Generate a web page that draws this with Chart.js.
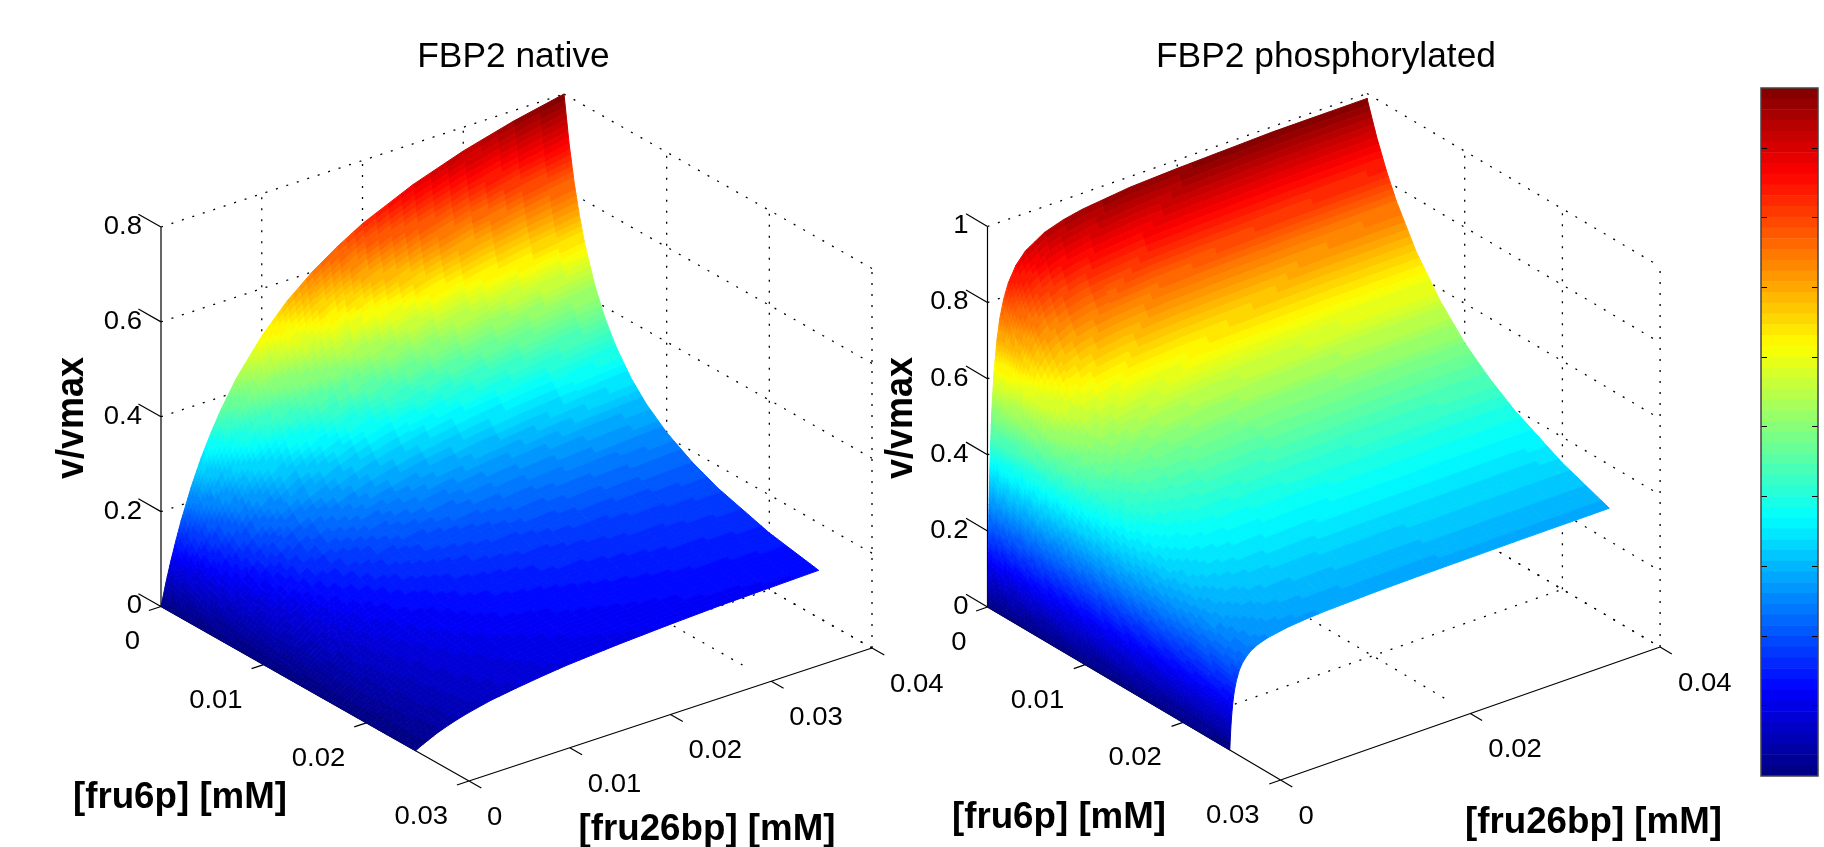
<!DOCTYPE html>
<html>
<head>
<meta charset="utf-8">
<title>FBP2 rate surfaces</title>
<script src="https://cdn.jsdelivr.net/npm/chart.js@4"></script>
<style>
  html,body{margin:0;padding:0;background:#fff;overflow:hidden}
  canvas{position:absolute;top:0}
</style>
</head>
<body>
<canvas id="nativeChart" width="960" height="847" style="left:0"></canvas>
<canvas id="phosChart" width="880" height="847" style="left:870px"></canvas>
<canvas id="cbarChart" width="59" height="690" style="left:1760px;top:87px"></canvas>
<script>
// values
const fb_native = [0,.0005,.001,.0015,.002,.003,.004,.005,.006,.0075,.01,.0125,.015,.0175,.02,.025,.03,.035,.04];
const f6_native = [0,.0005,.001,.0015,.002,.003,.004,.005,.0065,.008,.01,.0125,.015,.02,.0248];
const v_native = [
  [0,.048,.091,.130,.167,.231,.286,.333,.375,.429,.500,.556,.600,.636,.667,.714,.750,.778,.800],
  [0,.042,.080,.114,.146,.202,.250,.292,.329,.376,.438,.487,.526,.558,.584,.626,.657,.682,.701],
  [0,.037,.071,.102,.130,.180,.223,.260,.292,.334,.390,.433,.468,.496,.520,.557,.585,.606,.624],
  [0,.033,.064,.092,.117,.162,.201,.234,.263,.301,.351,.390,.421,.447,.468,.502,.527,.546,.562],
  [0,.030,.058,.083,.107,.147,.183,.213,.240,.274,.320,.355,.383,.407,.426,.456,.479,.497,.511],
  [0,.026,.049,.071,.090,.125,.155,.180,.203,.232,.271,.301,.325,.344,.361,.387,.406,.421,.433],
  [0,.022,.043,.061,.078,.108,.134,.156,.176,.201,.235,.261,.282,.299,.313,.335,.352,.365,.376],
  [0,.020,.038,.054,.069,.096,.118,.138,.155,.178,.207,.230,.249,.264,.276,.296,.311,.322,.332],
  [0,.017,.032,.046,.059,.081,.101,.118,.132,.151,.176,.196,.212,.224,.235,.252,.264,.274,.282],
  [0,.015,.028,.040,.051,.071,.088,.102,.115,.131,.153,.170,.184,.195,.205,.219,.230,.239,.245],
  [0,.012,.024,.034,.044,.060,.075,.087,.098,.112,.131,.145,.157,.166,.174,.187,.196,.203,.209],
  [0,.011,.020,.029,.037,.051,.063,.074,.083,.095,.110,.123,.132,.140,.147,.158,.166,.172,.177],
  [0,.009,.017,.025,.032,.044,.055,.064,.072,.082,.095,.106,.115,.121,.127,.136,.143,.148,.153],
  [0,.007,.014,.020,.025,.035,.043,.050,.056,.064,.075,.084,.090,.096,.100,.107,.113,.117,.120],
  [0,.006,.011,.016,.021,.029,.036,.042,.047,.054,.062,.069,.075,.079,.083,.089,.094,.097,.100]
];
const fb_phos = [0,.00005,.0001,.00015,.0002,.0003,.0004,.0005,.0007,.001,.0013,.0017,.0022,.003,.004,.006,.008,.01,.015,.02,.03,.04];
const f6_phos = [0,.001,.002,.003,.005,.0075,.01,.0125,.015,.02,.0248];
const v_phos = [
  [0,.102,.185,.254,.313,.405,.476,.532,.614,.694,.747,.794,.833,.872,.901,.932,.948,.958,.972,.978,.986,.987],
  [0,.093,.168,.231,.284,.369,.433,.484,.559,.632,.680,.723,.758,.794,.820,.848,.863,.872,.885,.890,.897,.900],
  [0,.085,.154,.212,.261,.338,.397,.444,.513,.579,.624,.663,.696,.728,.752,.778,.792,.800,.812,.817,.823,.826],
  [0,.079,.143,.196,.241,.312,.367,.410,.473,.535,.576,.612,.642,.672,.695,.719,.731,.739,.749,.754,.760,.763],
  [0,.068,.124,.170,.209,.271,.318,.356,.411,.464,.500,.531,.557,.583,.603,.624,.634,.641,.650,.654,.660,.662],
  [0,.059,.106,.146,.179,.232,.273,.305,.352,.398,.429,.456,.478,.501,.517,.535,.544,.550,.558,.561,.566,.568],
  [0,.051,.093,.128,.157,.203,.239,.267,.308,.348,.375,.399,.418,.438,.452,.468,.476,.481,.488,.491,.495,.496],
  [0,.046,.083,.114,.140,.181,.213,.238,.274,.310,.334,.355,.372,.390,.403,.417,.424,.428,.434,.437,.441,.442],
  [0,.041,.074,.102,.126,.163,.191,.214,.247,.279,.300,.319,.335,.351,.362,.375,.381,.385,.391,.393,.396,.398],
  [0,.034,.062,.085,.105,.136,.160,.179,.206,.233,.251,.267,.280,.293,.303,.313,.319,.322,.327,.329,.331,.332],
  [0,.029,.053,.073,.090,.117,.138,.154,.177,.201,.216,.229,.241,.252,.260,.269,.274,.277,.281,.283,.285,.286]
];
const zticks_native = [0,.2,.4,.6,.8];
const zticks_phos = [0,.2,.4,.6,.8,1];
const f6ticks = [0,.01,.02,.03];
const fbticks_native = [0,.01,.02,.03,.04];
const fbticks_phos = [0,.02,.04];
const floorFb_native = [.03];
const floorFb_phos = [.02];
const floorF6 = [.01,.02];
const wallFb_native = [.01,.02,.03];
const wallFb_phos = [.02];
const wallF6 = [.01,.02];
const cbarTicks = [0,.1,.2,.3,.4,.5,.6,.7,.8,.9];
const cbarMax = .987;
const LEVELS = 64;

const FONT = '"Liberation Sans", Arial, sans-serif';

function jet(t){
  const c = k => Math.round(255*Math.max(0,Math.min(1,1.5-Math.abs(4*t-k))));
  return `rgb(${c(3)},${c(2)},${c(1)})`;
}
function levelColor(z,cmax){
  const lvl = Math.min(LEVELS-1,Math.max(0,Math.floor(z/cmax*LEVELS)));
  return jet((lvl+.5)/LEVELS);
}

// box in page units: origin corner plus the edge vectors of the three axes
function makeProject(b){
  return (f6,fb,z)=>({
    x: b.ox + f6/.03*b.ax + fb/.04*b.bx,
    y: b.oy + f6/.03*b.ay + fb/.04*b.by - z/b.zMax*b.zh
  });
}

function text(ctx,str,x,y,font,align,stretch,rot){
  ctx.save();
  ctx.translate(x,y);
  ctx.scale(stretch,1);
  if(rot) ctx.rotate(-Math.PI/2);
  ctx.font = font;
  ctx.textAlign = align;
  ctx.textBaseline = "middle";
  ctx.fillStyle = "#000";
  ctx.fillText(str,0,0);
  ctx.restore();
}

function segments(project,list){
  const pts = [];
  list.forEach(s=>{ pts.push(project(s[0],s[1],s[2]),project(s[3],s[4],s[5]),{x:null,y:null}); });
  return pts;
}

// cells are shaded on a finer mesh, coarser towards high fru26bp as in the reference
function drawSurface(chart,p){
  const ctx = chart.ctx, xs = chart.scales.x, ys = chart.scales.y;
  const px = (f6,fb,z)=>{ const q=p.project(f6,fb,z); return [xs.getPixelForValue(q.x),ys.getPixelForValue(q.y)]; };
  const lerp = (a,b,t)=>a+(b-a)*t;
  ctx.save();
  ctx.lineWidth = 1;
  ctx.lineJoin = "round";
  // far corner first, near corner last
  for(let j=p.fb.length-2;j>=0;j--){
    for(let i=0;i<p.f6.length-1;i++){
      const z00=p.v[i][j], z01=p.v[i][j+1], z10=p.v[i+1][j], z11=p.v[i+1][j+1];
      const dz = Math.max(Math.abs(z01-z00),Math.abs(z11-z10));
      const dy = Math.max(Math.abs(z10-z00),Math.abs(z11-z01));
      const stepS = .0004+.06*p.fb[j];
      const nJ = Math.max(1,Math.ceil((p.fb[j+1]-p.fb[j])/stepS),Math.ceil(dz/p.cmax*LEVELS));
      const nI = Math.max(1,Math.ceil((p.f6[i+1]-p.f6[i])/.0004),Math.ceil(dy/p.cmax*LEVELS));
      const Z = (a,b)=>lerp(lerp(z00,z01,b),lerp(z10,z11,b),a);
      const F=t=>lerp(p.f6[i],p.f6[i+1],t), S=t=>lerp(p.fb[j],p.fb[j+1],t);
      for(let b=nJ-1;b>=0;b--){
        for(let a=0;a<nI;a++){
          const a0=a/nI,a1=(a+1)/nI,b0=b/nJ,b1=(b+1)/nJ;
          const c = levelColor(Z((a0+a1)/2,(b0+b1)/2),p.cmax);
          const q=[px(F(a0),S(b0),Z(a0,b0)),px(F(a0),S(b1),Z(a0,b1)),px(F(a1),S(b1),Z(a1,b1)),px(F(a1),S(b0),Z(a1,b0))];
          ctx.beginPath();
          ctx.moveTo(q[0][0],q[0][1]);
          ctx.lineTo(q[1][0],q[1][1]);
          ctx.lineTo(q[2][0],q[2][1]);
          ctx.lineTo(q[3][0],q[3][1]);
          ctx.closePath();
          ctx.fillStyle = c; ctx.strokeStyle = c;
          ctx.fill(); ctx.stroke();
        }
      }
    }
  }
  ctx.restore();
}

function drawLabels(chart,p){
  const ctx = chart.ctx, xs = chart.scales.x, ys = chart.scales.y;
  const at = q=>[xs.getPixelForValue(q.x),ys.getPixelForValue(q.y)];
  const tickFont = `25px ${FONT}`, boldFont = `bold 36px ${FONT}`;
  p.zticks.forEach(z=>{
    const [x,y] = at(p.project(0,0,z));
    text(ctx,String(z),x-p.zGap,y,tickFont,"right",1.1);
  });
  f6ticks.forEach(v=>{
    const [x,y] = at(p.project(v,0,0));
    text(ctx,String(v),x-21,y+36,tickFont,"right",1.1);
  });
  p.fbticks.forEach(v=>{
    const [x,y] = at(p.project(.03,v,0));
    text(ctx,String(v),x+18,y+37,tickFont,"left",1.1);
  });
  text(ctx,p.title,p.titleX,57,`35px ${FONT}`,"center",1.01);
  text(ctx,"v/vmax",p.zlabX,418,boldFont,"center",1.1,true);
  text(ctx,"[fru6p] [mM]",p.f6labX,p.f6labY,boldFont,"center",1.02);
  text(ctx,"[fru26bp] [mM]",p.fblabX,p.fblabY,boldFont,"center",1.02);
}

function makePanel(id,p){
  const zMax = p.zticks[p.zticks.length-1];
  const wall = [], axes = [];
  p.zticks.forEach(z=>{
    wall.push([0,0,z,0,.04,z],[0,.04,z,.03,.04,z]);
    axes.push([0,0,z,-.0022,0,z]);
  });
  p.wallFb.forEach(s=>wall.push([0,s,0,0,s,zMax]));
  wallF6.forEach(v=>wall.push([v,.04,0,v,.04,zMax]));
  wall.push([.03,.04,0,.03,.04,zMax],[0,.04,0,0,.04,zMax]);
  const floor = [];
  p.floorFb.forEach(s=>floor.push([0,s,0,.0275,s,0]));
  floorF6.forEach(v=>floor.push([v,0,0,v,.04,0]));
  floor.push([0,.04,0,.03,.04,0]);
  axes.push([0,0,0,0,0,zMax],[0,0,0,.03,0,0],[.03,0,0,.03,.04,0]);
  f6ticks.forEach(v=>axes.push([v,0,0,v,-.0012,0]));
  p.fbticks.forEach(s=>axes.push([.03,s,0,.0312,s,0]));

  const dotted = {showLine:true,pointRadius:0,borderColor:"#000",borderWidth:1.3,borderDash:[2,9],spanGaps:false};
  return new Chart(document.getElementById(id),{
    type:"scatter",
    data:{datasets:[
      {label:"axes",data:segments(p.project,axes),showLine:true,pointRadius:0,borderColor:"#000",borderWidth:1.2,spanGaps:false},
      Object.assign({label:"walls",data:segments(p.project,wall)},dotted),
      Object.assign({label:"floor",data:segments(p.project,floor)},dotted)
    ]},
    options:{
      responsive:false,animation:false,devicePixelRatio:1,
      layout:{padding:0},
      plugins:{legend:{display:false},tooltip:{enabled:false}},
      scales:{
        x:{type:"linear",display:false,min:p.xMin,max:p.xMax},
        y:{type:"linear",display:false,min:0,max:847,reverse:true}
      }
    },
    plugins:[{id:"surface",afterDatasetsDraw(c){ drawSurface(c,p); drawLabels(c,p); }}]
  });
}

makePanel("nativeChart",{
  project:makeProject({ox:161,oy:606.5,ax:308,ay:174.5,bx:403,by:-133,zh:379.5,zMax:.8}),
  f6:f6_native,fb:fb_native,v:v_native,cmax:.8,
  zticks:zticks_native,fbticks:fbticks_native,
  wallFb:wallFb_native,floorFb:floorFb_native,
  xMin:0,xMax:960,zGap:19,
  title:"FBP2 native",titleX:513.5,zlabX:72,f6labX:180,f6labY:798,fblabX:707,fblabY:830
});
makePanel("phosChart",{
  project:makeProject({ox:987.5-870,oy:607,ax:293.1,ay:173,bx:379.5,by:-133,zh:380.5,zMax:1}),
  f6:f6_phos,fb:fb_phos,v:v_phos,cmax:.987,
  zticks:zticks_phos,fbticks:fbticks_phos,
  wallFb:wallFb_phos,floorFb:floorFb_phos,
  xMin:0,xMax:880,zGap:19,
  title:"FBP2 phosphorylated",titleX:1326-870,zlabX:901-870,f6labX:1059-870,f6labY:818,fblabX:1593.5-870,fblabY:823
});

// colorbar: one stacked bar, one band per colormap level
const cbarBand = cbarMax/LEVELS;
const cbarData = [];
for(let i=0;i<LEVELS;i++) cbarData.push({label:"L"+i,data:[cbarBand],backgroundColor:jet((i+.5)/LEVELS),barPercentage:1,categoryPercentage:1,borderWidth:0});
new Chart(document.getElementById("cbarChart"),{
  type:"bar",
  data:{labels:["v/vmax"],datasets:cbarData},
  options:{
    responsive:false,animation:false,devicePixelRatio:1,
    layout:{padding:1},
    plugins:{legend:{display:false},tooltip:{enabled:false}},
    scales:{
      x:{display:false,stacked:true},
      y:{display:false,stacked:true,min:0,max:cbarMax}
    }
  },
  plugins:[{id:"cbarFrame",afterDatasetsDraw(c){
    const a=c.chartArea, ctx=c.ctx, y=c.scales.y;
    ctx.save();
    ctx.strokeStyle="#000"; ctx.lineWidth=1;
    cbarTicks.forEach(t=>{
      const py=Math.round(y.getPixelForValue(t))-.5;
      ctx.beginPath();
      ctx.moveTo(a.left,py); ctx.lineTo(a.left+6,py);
      ctx.moveTo(a.right-6,py); ctx.lineTo(a.right,py);
      ctx.stroke();
    });
    ctx.strokeStyle="#444"; ctx.lineWidth=1.5;
    ctx.strokeRect(a.left,a.top,a.right-a.left,a.bottom-a.top);
    ctx.restore();
  }}]
});
</script>
</body>
</html>
